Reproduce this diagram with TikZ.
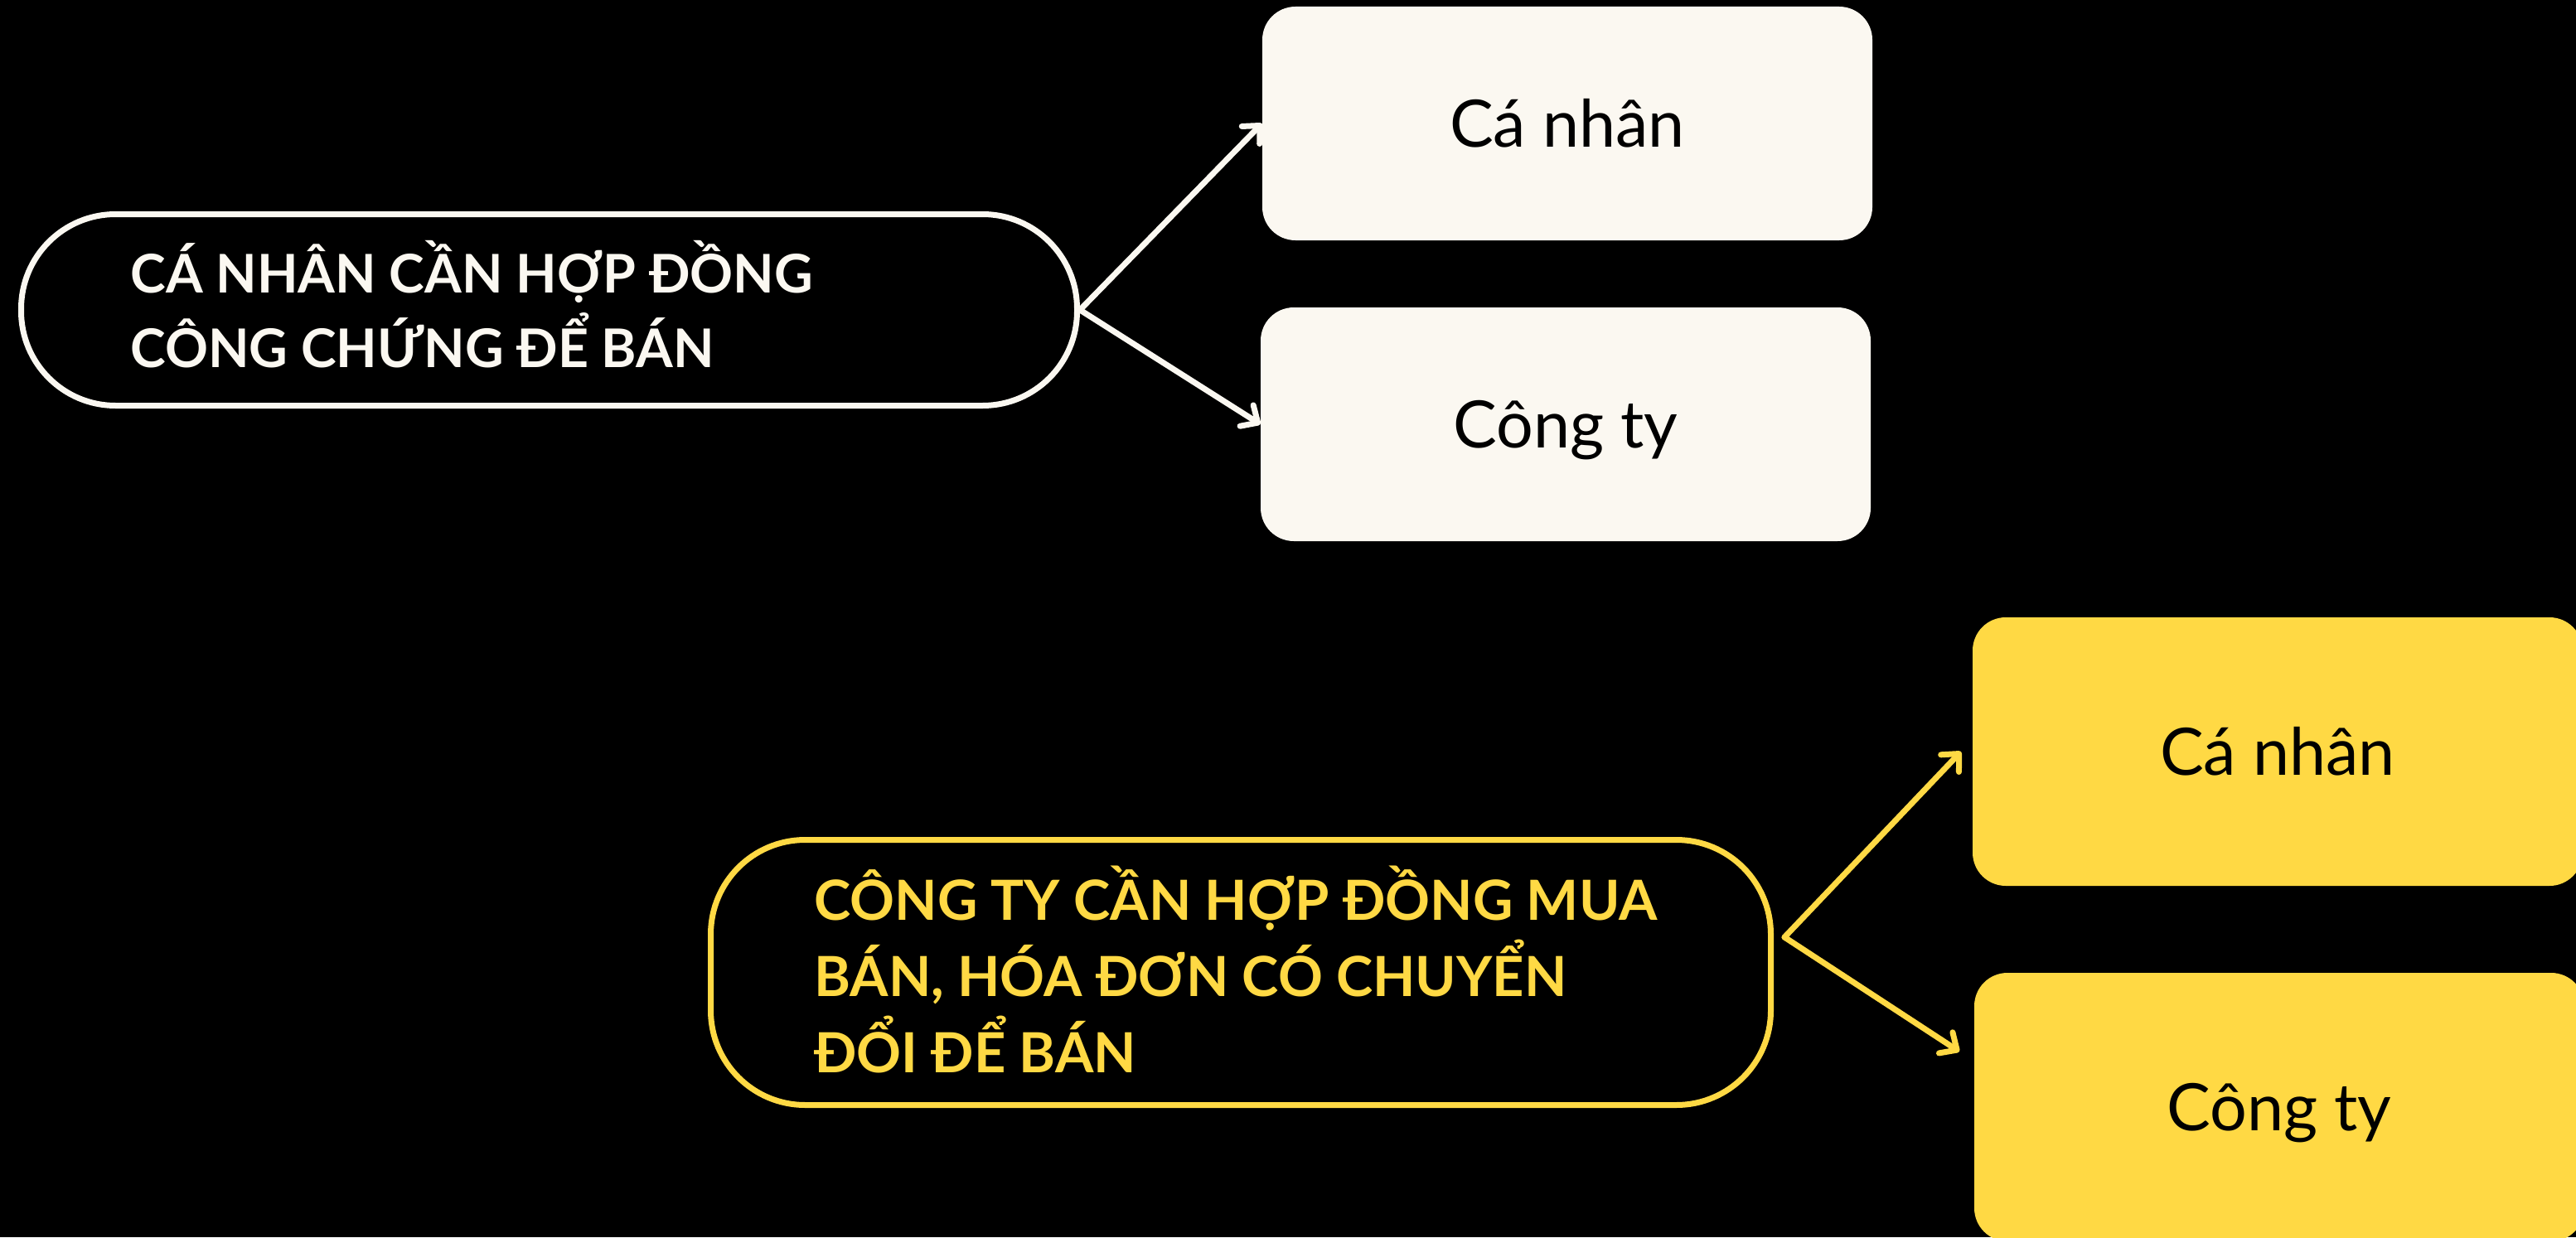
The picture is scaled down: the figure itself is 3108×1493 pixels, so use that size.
\documentclass[tikz,border=0pt]{standalone}
\usepackage{fontspec}
\setmainfont{Lato}
\usetikzlibrary{arrows.meta}
\definecolor{cream}{HTML}{FBF8F1}
\definecolor{gold}{HTML}{FFD944}
\begin{document}
\begin{tikzpicture}[x=0.5pt,y=-0.5pt,
  pill/.style={draw, line width=3.5pt, rounded corners=57pt, rectangle, inner sep=0pt, minimum width=#1},
  pilltext/.style={inner sep=0pt, anchor=base west},
  box/.style={rectangle, rounded corners=20pt, inner sep=0pt, minimum width=368pt, text=black,
    text height=28.3pt, text depth=0pt, font=\fontsize{39.5pt}{47pt}\selectfont},
  conn/.style={line width=#1, line cap=round, line join=round,
    -{Straight Barb[length=8pt, width=15pt, round]}}
]
\fill[black] (0,0) rectangle (3108,1493);
\useasboundingbox (0,0) rectangle (3108,1493);
\clip (0,0) rectangle (3108,1493);

% top group
\node[pill=637pt, minimum height=115.5pt, draw=cream] (pA) at (662.5,374) {};
\node[pilltext, text=cream, font=\bfseries\fontsize{32.2pt}{45pt}\selectfont] (tA) at (157,353)
  {\vtop{\hbox{CÁ NHÂN CẦN HỢP ĐỒNG}\hbox{CÔNG CHỨNG ĐỂ BÁN}}};
\node[box, fill=cream, minimum height=141pt] (b1) at (1891,149) {Cá nhân};
\node[box, fill=cream, minimum height=141pt] (b2) at (1889,512) {Công ty};
\draw[conn=3.5pt, cream] (pA.east) -- (b1.west);
\draw[conn=3.5pt, cream] (pA.east) -- (b2.west);

% bottom group
\node[pill=639.5pt, minimum height=160pt, draw=gold] (pB) at (1497,1173.5) {};
\node[pilltext, text=gold, font=\bfseries\fontsize{33.4pt}{46pt}\selectfont] (tB) at (982,1110)
  {\vtop{\hbox{CÔNG TY CẦN HỢP ĐỒNG MUA}\hbox{BÁN, HÓA ĐƠN CÓ CHUYỂN}\hbox{ĐỔI ĐỂ BÁN}}};
\node[box, fill=gold, minimum height=162pt] (b3) at (2748,907) {Cá nhân};
\node[box, fill=gold, minimum height=162pt] (b4) at (2750,1336) {Công ty};
\coordinate (fork) at (2153,1131);
\coordinate (t3) at (2366,907);
\coordinate (t4) at (2364,1269);
\draw[conn=3.5pt, gold] (fork) -- (t3);
\draw[conn=3.5pt, gold] (fork) -- (t4);
\end{tikzpicture}
\end{document}
